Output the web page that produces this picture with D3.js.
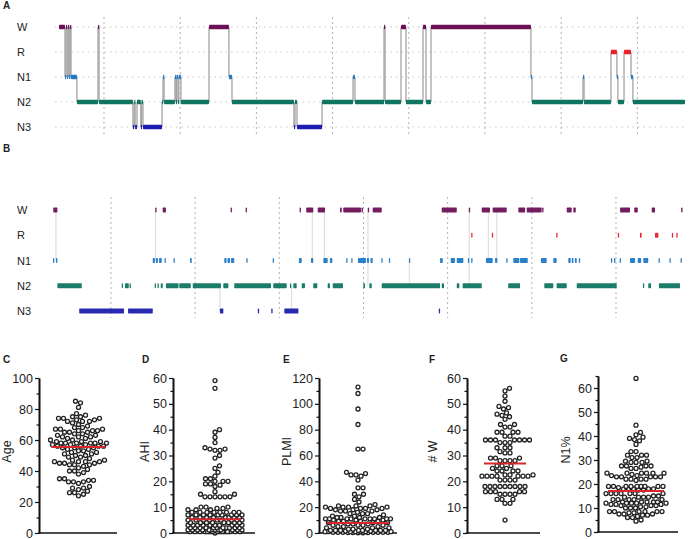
<!DOCTYPE html>
<html><head><meta charset="utf-8">
<script src="https://cdn.jsdelivr.net/npm/d3@7"></script>
<style>body{margin:0;background:#fff} svg{display:block;font-family:"Liberation Sans",Arial,sans-serif}</style>
</head><body><svg id="c" width="690" height="539"></svg>
<script>
// ---------- DATA ----------
const stages = ["W","R","N1","N2","N3"];
const stageColors = {W:"#6b1057",R:"#e8202a",N1:"#2079c7",N2:"#0f7561",N3:"#1c1cae"};

// Panel A hypnogram (minutes from start): segment start and stage
const hypStart = [1.6,6.3,7.1,8.0,8.7,9.6,10.3,11.0,15.7,32.3,33.1,59.8,60.8,61.5,63.0,66.0,66.6,67.7,82.7,83.5,84.3,92.9,93.6,94.2,95.3,95.9,97.6,119.7,135.4,137.8,186.6,187.4,189.0,208.7,233.1,234.6,257.5,258.3,270.9,274.8,288.2,290.6,294.5,373.2,374.0,414.2,415.0,436.2,440.9,441.7,446.5,452.0,453.5];
const hypStage = ["W","N1","W","N1","W","N1","W","N1","N2","W","N2","N3","N2","N3","N2","N3","N2","N3","N2","N1","N2","N1","N2","N1","N2","N1","N2","W","N1","N2","N3","N2","N3","N2","N1","N2","W","N2","W","N2","W","N2","W","N1","N2","N1","N2","R","N1","N2","R","N1","N2"];
const hypEnd = 494.5;
const hypHours = [37,97,157,217,277,337,397,457];

// Panel B stage raster (minutes from start): [start, end]
const bW = [[0.2,3.1],[72.9,73.6],[78.2,80.5],[126.6,127.3],[137.3,138.0],[175.8,176.5],[180.5,185.5],[188.7,193.9],[204.6,205.8],[206.9,219.5],[219.9,220.9],[224.4,225.1],[227.9,234.3],[277.1,287.8],[296.4,297.1],[305.6,311.5],[313.4,323.4],[331.7,336.5],[337.7,348.3],[348.7,349.4],[366.2,369.7],[370.9,372.6],[404.2,411.3],[414.3,416.8],[426.8,429.1],[447.8,448.5]];
const bR = [[298.1,298.8],[312.8,313.5],[358.7,359.4],[402.6,403.3],[418.4,419.6],[429.1,431.5],[441.1,441.8],[444.3,445.0]];
const bN1 = [[0,0.7],[2.1,3.1],[71.1,72.7],[73.4,74.8],[75.6,77.5],[79.5,80.2],[85.9,86.6],[97.7,98.9],[122.1,123.7],[124.4,126.2],[126.9,129.2],[137.8,138.5],[156.6,157.3],[175.3,177.3],[183.9,185.5],[192.7,195.8],[197.4,199.1],[209.0,209.7],[212.6,213.3],[217.4,223.1],[223.8,225.2],[226.3,227.9],[234.0,234.7],[239.4,240.1],[253.7,254.4],[275.9,277.8],[283.5,286.5],[287.8,292.5],[295.7,296.4],[298.1,298.8],[308.6,313.4],[315.1,316.7],[323.1,323.8],[328.1,332.4],[332.9,338.4],[347.8,351.9],[356.6,359.0],[367.3,369.0],[369.8,371.0],[372.0,373.3],[374.8,375.5],[397.7,398.4],[399.9,400.6],[403.9,404.6],[411.3,414.9],[416.8,419.2],[420.8,424.3],[431.6,432.3],[439.4,440.1],[447.3,448.0]];
const bN2 = [[3.1,20.5],[49.0,49.7],[51.3,54.0],[54.6,55.3],[72.5,73.4],[74.5,75.2],[76.8,78.2],[80.5,89.5],[90.0,98.2],[99.6,119.7],[121.4,125.0],[129.2,155.4],[157.0,166.6],[168.9,169.6],[171.3,173.7],[177.3,179.6],[185.5,188.4],[195.8,197.4],[199.4,206.7],[221.2,222.4],[225.5,227.2],[234.3,275.9],[277.1,278.7],[287.8,289.6],[292.0,305.6],[324.5,332.9],[350.2,356.6],[359.0,366.2],[373.3,401.8],[420.5,421.2],[424.3,426.3],[431.9,446.9]];
const bN3 = [[18.7,50.6],[53.5,71.1],[119.0,121.4],[146.0,146.7],[155.6,156.3],[164.9,174.9],[275.0,275.7]];
const bLinks = [[2.1,"W","N1"],[73.0,"W","N1"],[119.0,"N2","N3"],[170.1,"N2","N3"],[184.8,"W","N1"],[193.4,"W","N1"],[224.5,"W","N2"],[254.0,"N1","N2"],[296.7,"W","N2"],[310.3,"W","N1"],[316.3,"W","N1"]];
const bHours = [41.3,101.3,161.3,221.3,281.3,341.3,401.3];

// Panels C-G: individual values and the red centre line
const ageValues = [85,84,81,77,76,75,75,74,74,74,73,73,72,72,72,71,70,69,68,68,67,67,67,66,66,66,65,65,65,64,64,63,63,62,62,62,61,61,60,60,59,59,59,58,58,58,58,58,58,57,57,57,56,56,56,56,55,55,55,54,54,53,53,52,52,51,51,50,50,49,49,48,47,47,46,46,46,46,45,45,45,44,44,44,43,42,41,40,40,39,38,35,35,34,34,33,33,33,32,30,29,29,28,27,26,26,25,24];
const ahiValues = [59,56,40,39,37,35,33,32.5,32,32,32.5,30,29,26,25,23.5,22,21,21,20,20,20,19,19,18.5,18,16,15,15,14,14,14,14,14,14,10,10,10,9.5,9.5,9,9,9,8,8,8,8,8,8,8,8,7,7,7,7,7,7,7,7,7,6,6,6,6,6,6,6,6,5,5,5,5,5,5,5,5,5,4,4,4,4,4,4,4,4,3,3,3,3,3,3,3,3,3,3,2,2,2,2,2,2,2,2,2,2,2,1.2,1.2,1.2,1.2,1.2,1.2,1.2,1.2,1.2,1.2,1.2,1.2,0.5,0.5,0.5,0.5,0.5,0.5,0.5,0.5,0.5,0.5,0.5,0.5,0.5,0.5,0.5,0];
const plmiValues = [113,108,96,84,65,65,47,46,45,45,44,41,35,35,30,30,28,26,24,22,21,21,21,20,20,20,20,19,19,19,19,18,18,18,17,17,17,16,15,15,15,14,13,13,12,12,12,12,11,11,11,11,11,11,11,11,11,10,10,10,9,9,9,9,8,8,8,7,7,7,6,6,6,6,5,5,5,4,4,4,3,3,3,2,2,2,2,2,2,2,2,1.5,1.5,1,1,1,1,1,1,1,0.5,0.5,0.5,0.5,0.5,0.5,0.5,0.3,0.3,0.3,0.2,0.2];
const wakeValues = [56,55,53,51,49,48.5,48,46.5,46,45.5,45,44,42,42,41,41,39,39,39,39,37.5,37.5,36,36,36,36,36,36,36,35,35,35,33,33,33,31.5,31,31,29,29,29,28,28,28,28,26,26,26,25,25,24,24,24,24,22.5,22.5,22.5,22,22,22,22,22,22,22,20.5,20.5,20.5,20.5,18,18,18,18,18,18,18,18,18,16,16,16,16,16,15,15,15,15,13,13,13,11.5,11.5,5];
const n1Values = [64,44.5,41.5,40.5,39.5,39,38.5,38,36.5,33.5,33.5,32,32,32,31,31,29.5,29.5,29,29,29,27.5,27.5,27.5,27.5,27,26.5,26.5,24.5,24.5,24.5,24.5,24.5,24.5,24,23.5,23.5,23,23,23,23,23,22,22,22,22,21.5,19,19,19,19,19,19,19,19,19,18.5,18,18,18,18,18,17.5,17.5,16,16,16,16,16,16,16,15,15,14.5,14.5,14.5,14.5,13.5,13.5,13.5,13.5,13.5,12.5,12.5,12.5,12.5,12.5,12,12,12,12,12,11.5,11.5,11.5,11,11,11,10.5,10.5,10,10,10,8.5,8.5,8.5,8.5,8.5,8.5,8,8,7.5,7.5,7.5,7,7,6.5,6,6,5,4.5];
const centreValues = [55.5, 5.3, 7.8, 26.9, 17.1];
const panelTitles = ["Age","AHI","PLMI","# W","N1%"];
const panelLetters = ["C","D","E","F","G"];

// ---------- DRAW ----------
const svg = d3.select("#c");
const txt = (x,y,s,opt={}) => svg.append("text").attr("x",x).attr("y",y).text(s)
  .attr("font-size",opt.size||11).attr("font-weight",opt.bold?"bold":null).attr("fill","#222")
  .attr("text-anchor",opt.anchor||"start");

txt(3,9,"A",{bold:true,size:10});
txt(3,152,"B",{bold:true,size:10});

// ----- Panel A -----
const xA = d3.scaleLinear().domain([0,495.3]).range([57,686]);
const yA = d3.scalePoint().domain(stages).range([27,127]);
const gA = svg.append("g");
stages.forEach(s=>{
  gA.append("line").attr("x1",55).attr("x2",686).attr("y1",yA(s)).attr("y2",yA(s))
    .attr("stroke","#c9c9c9").attr("stroke-width",1).attr("stroke-dasharray","1.5,4");
  txt(17,yA(s)+4,s);
});
hypHours.forEach(m=>gA.append("line").attr("x1",xA(m)).attr("x2",xA(m)).attr("y1",17).attr("y2",137)
  .attr("stroke","#b0b0b0").attr("stroke-width",1).attr("stroke-dasharray","2,3"));
for(let i=1;i<hypStart.length;i++){
  gA.append("line").attr("x1",xA(hypStart[i])).attr("x2",xA(hypStart[i]))
    .attr("y1",yA(hypStage[i-1])).attr("y2",yA(hypStage[i]))
    .attr("stroke","#a3a3a3").attr("stroke-width",1.3);
}
hypStart.forEach((s,i)=>{
  const e = i<hypStart.length-1 ? hypStart[i+1] : hypEnd;
  gA.append("rect").attr("x",xA(s)).attr("width",Math.max(1.2,xA(e)-xA(s)))
    .attr("y",yA(hypStage[i])-2.3).attr("height",4.6).attr("rx",0.8)
    .attr("fill",stageColors[hypStage[i]]);
});

// ----- Panel B -----
const xB = d3.scaleLinear().domain([0,451.2]).range([53,686]);
const yB = d3.scalePoint().domain(stages).range([210,311]);
const gB = svg.append("g");
stages.forEach(s=>txt(17,yB(s)+4,s));
bHours.forEach(m=>gB.append("line").attr("x1",xB(m)).attr("x2",xB(m)).attr("y1",197).attr("y2",318)
  .attr("stroke","#b0b0b0").attr("stroke-width",1).attr("stroke-dasharray","2,3"));
bLinks.forEach(([t,a,b])=>gB.append("line").attr("x1",xB(t)).attr("x2",xB(t))
  .attr("y1",yB(a)).attr("y2",yB(b)).attr("stroke","#cfcfcf").attr("stroke-width",0.8));
const raster = {W:bW,R:bR,N1:bN1,N2:bN2,N3:bN3};
stages.forEach(s=>{
  raster[s].forEach(([a,b])=>{
    gB.append("rect").attr("x",xB(a)).attr("width",Math.max(1.3,xB(b)-xB(a)))
      .attr("y",yB(s)-2.4).attr("height",4.8).attr("rx",0.6)
      .attr("fill",stageColors[s]).attr("opacity",0.95);
  });
});

// ----- Panels C-G -----
function beeswarm(vals, y, cx, maxHalf, d){
  const pts = vals.map(v=>({v, y:y(v)})).sort((a,b)=>a.v-b.v);
  const placed=[];
  const cands=[0]; for(let k=0.5;k<=maxHalf;k+=0.5){cands.push(k,-k);}
  pts.forEach(p=>{
    let best=0, bestScore=-1;
    for(const c of cands){
      let minD=Infinity;
      for(const q of placed){
        const dy=q.y-p.y; if(Math.abs(dy)>=d) continue;
        const dx=q.x-(cx+c); const dd=Math.hypot(dx,dy); if(dd<minD) minD=dd;
      }
      if(minD>=d){best=c;break;}
      if(minD>bestScore){bestScore=minD;best=c;}
    }
    p.x=cx+best; placed.push(p);
  });
  return pts;
}

const panels = [
  {vals:ageValues, domain:[0,100], top:378, bot:533, major:20, minor:10, ax:39, xe:117, cx:78.5, half:28, line:27, letterX:3, titleX:11},
  {vals:ahiValues, domain:[0,60], top:378, bot:533, major:10, minor:5, ax:173, xe:255, cx:215, half:27, line:26, letterX:142, titleX:149},
  {vals:plmiValues, domain:[0,120], top:378, bot:533, major:20, minor:10, ax:319, xe:397, cx:358, half:33, line:31, letterX:283, titleX:291},
  {vals:wakeValues, domain:[0,60], top:378, bot:533, major:10, minor:5, ax:467, xe:540, cx:505, half:28, line:21, letterX:429, titleX:437},
  {vals:n1Values, domain:[0,65], top:376, bot:532, major:10, minor:5, ax:598, xe:678, cx:636, half:30, line:28, letterX:560, titleX:570}
];
panels.forEach((p,i)=>{
  const y = d3.scaleLinear().domain(p.domain).range([p.bot,p.top]);
  const g = svg.append("g");
  const maxTick = Math.floor(p.domain[1]/p.major)*p.major;
  const minors = d3.range(0,p.domain[1]+0.001,p.minor).filter(v=>v%p.major!==0);
  const gm = g.append("g").attr("transform",`translate(${p.ax},0)`)
    .call(d3.axisLeft(y).tickValues(minors).tickSize(2.5).tickFormat("").tickSizeOuter(0));
  const ga = g.append("g").attr("transform",`translate(${p.ax},0)`)
    .call(d3.axisLeft(y).tickValues(d3.range(0,maxTick+0.001,p.major)).tickSize(4).tickPadding(2).tickSizeOuter(0));
  [gm,ga].forEach(a=>{
    a.select(".domain").attr("stroke","#111").attr("stroke-width",1.6);
    a.selectAll(".tick line").attr("stroke","#111").attr("stroke-width",1.2);
  });
  ga.selectAll(".tick text").attr("font-size",12.5).attr("fill","#222").attr("font-family","'Liberation Sans',Arial,sans-serif");
  g.append("line").attr("x1",p.ax-0.8).attr("x2",p.xe).attr("y1",p.bot).attr("y2",p.bot)
    .attr("stroke","#111").attr("stroke-width",1.6);
  const pts = beeswarm(p.vals, y, p.cx, p.half, 4.9);
  g.selectAll("circle.pt").data(pts).join("circle").attr("class","pt")
    .attr("cx",d=>d.x).attr("cy",d=>d.y).attr("r",2.0)
    .attr("fill","#fff").attr("stroke","#222").attr("stroke-width",1.3);
  g.append("line").attr("x1",p.cx-p.line).attr("x2",p.cx+p.line)
    .attr("y1",y(centreValues[i])).attr("y2",y(centreValues[i]))
    .attr("stroke","#d9262c").attr("stroke-width",2);
  txt(p.letterX, i===4?362:363, panelLetters[i], {bold:true,size:10});
  svg.append("text").attr("transform",`translate(${p.titleX},${(p.top+p.bot)/2-4}) rotate(-90)`)
    .attr("text-anchor","middle").attr("font-size",12.5).attr("fill","#222").text(panelTitles[i]);
});
</script>
</body></html>
